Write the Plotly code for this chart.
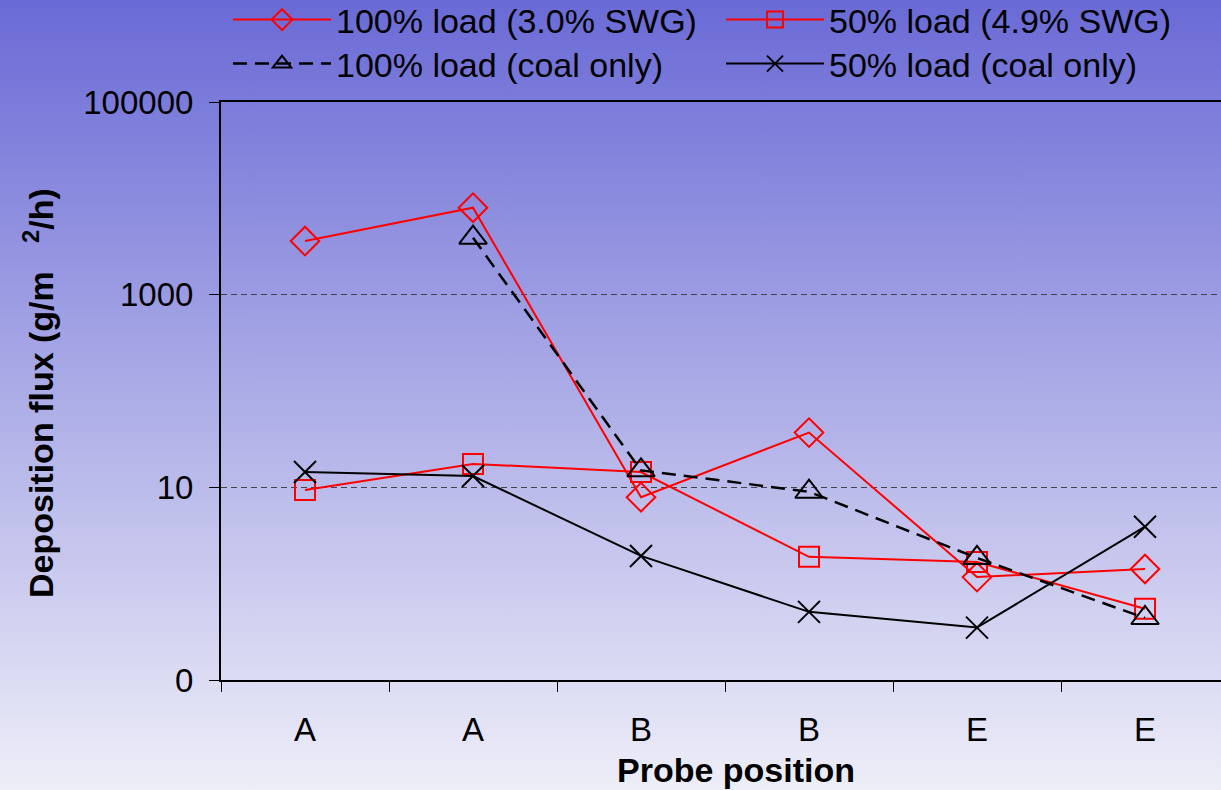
import base64
import plotly.graph_objects as go

# ---------------- data ----------------
categories = ["A", "A", "B", "B", "E", "E"]
series_names = [
    "100% load (3.0% SWG)",
    "50% load (4.9% SWG)",
    "100% load (coal only)",
    "50% load (coal only)",
]
swg100 = [3600, 8000, 7.9, 37, 1.17, 1.42]
swg50 = [9.4, 17.5, 14.4, 1.9, 1.68, 0.55]
coal100 = [None, 3900, 15, 9.0, 1.85, 0.44]
coal50 = [14.4, 13.1, 1.94, 0.51, 0.35, 3.9]
ytick_vals = [0.1, 10, 1000, 100000]
ytick_text = ["0", "10", "1000", "100000"]

W, H = 1221, 790
L, R, T, B = 221, 0, 102, 110
PW, PH = W - L - R, H - T - B

xs = list(range(len(categories)))
FONT = "Liberation Sans, Arial, sans-serif"

# background gradient (SVG data URI)
svg = (
    '<svg xmlns="http://www.w3.org/2000/svg" width="100" height="100" preserveAspectRatio="none">'
    '<defs><linearGradient id="g" x1="0" y1="0" x2="0" y2="1">'
    '<stop offset="0" stop-color="#6a6ad6"/><stop offset="1" stop-color="#eeeef8"/>'
    '</linearGradient></defs><rect width="100" height="100" fill="url(#g)"/></svg>'
)
bg_uri = "data:image/svg+xml;base64," + base64.b64encode(svg.encode()).decode()

fig = go.Figure()

styles = [
    dict(data=swg100, color="#ff0000", symbol="diamond-open", dash="solid", size=22, lw=2),
    dict(data=swg50, color="#ff0000", symbol="square-open", dash="solid", size=20, lw=2),
    dict(data=coal100, color="#000000", symbol="triangle-up-open", dash="14px,8px", size=24, lw=2.5),
    dict(data=coal50, color="#000000", symbol="x-thin-open", dash="solid", size=22, lw=2),
]
legend_ids = ["legend", "legend2", "legend3", "legend4"]
for name, st, lg in zip(series_names, styles, legend_ids):
    fig.add_trace(go.Scatter(
        x=xs, y=st["data"], name=name, mode="lines+markers",
        line=dict(color=st["color"], width=st["lw"], dash=st["dash"]),
        marker=dict(symbol=st["symbol"], size=st["size"], color=st["color"],
                    line=dict(color=st["color"], width=2)),
        legend=lg, connectgaps=False,
    ))

def py(ypix):
    return (H - B - ypix) / PH

def px(xpix):
    return (xpix - L) / PW

leg_common = dict(font=dict(family=FONT, size=34, color="black"), bgcolor="rgba(0,0,0,0)",
                  itemwidth=98, xanchor="left", yanchor="middle", tracegroupgap=0)
legend_pos = [(228, 20), (721, 20), (228, 64), (721, 64)]
for lg, (lx, ly) in zip(legend_ids, legend_pos):
    fig.update_layout({lg: dict(x=px(lx), y=py(ly), **leg_common)})

fig.update_layout(
    width=W, height=H,
    margin=dict(l=L, r=R, t=T, b=B, pad=0, autoexpand=False),
    paper_bgcolor="rgba(0,0,0,0)", plot_bgcolor="rgba(0,0,0,0)",
    font=dict(family=FONT, color="black"),
    showlegend=True,
    images=[dict(source=bg_uri, xref="paper", yref="paper",
                 x=-L / PW, y=1 + T / PH, sizex=W / PW, sizey=H / PH,
                 xanchor="left", yanchor="top", sizing="stretch", layer="below")],
    xaxis=dict(
        range=[-0.5, -0.5 + PW / 168.0],
        tickvals=xs, ticktext=categories, ticks="", showgrid=False, zeroline=False,
        showline=True, linecolor="black", linewidth=2, mirror=True,
        tickfont=dict(family=FONT, size=33, color="black"),
        ticklabelstandoff=19,
        minor=dict(tick0=-0.5, dtick=1, ticks="outside", ticklen=10,
                   tickcolor="black", tickwidth=1, showgrid=False),
    ),
    yaxis=dict(
        type="log", range=[-1, 5],
        tickvals=ytick_vals, ticktext=ytick_text,
        ticks="outside", ticklen=10, tickcolor="black", tickwidth=1,
        showline=True, linecolor="black", linewidth=2,
        showgrid=True, gridcolor="#44444f", gridwidth=1, griddash="6px,4px",
        zeroline=False,
        tickfont=dict(family=FONT, size=33, color="black"),
        ticklabelstandoff=9,
    ),
    annotations=[
        dict(text="<b>Probe position</b>", xref="paper", yref="paper",
             x=px(736), y=py(770), xanchor="center", yanchor="middle",
             showarrow=False, font=dict(family=FONT, size=34, color="black")),
        dict(text="<b>Deposition flux (g/m\u00a0\u00a0\u00a0<sup>2</sup>/h)</b>", xref="paper", yref="paper",
             x=px(38), y=py(393), xanchor="center", yanchor="middle", textangle=-90,
             showarrow=False, font=dict(family=FONT, size=34, color="black")),
    ],
)

fig.write_html("out.html", config={"displayModeBar": False},
               post_script="document.body.style.margin='0';")
